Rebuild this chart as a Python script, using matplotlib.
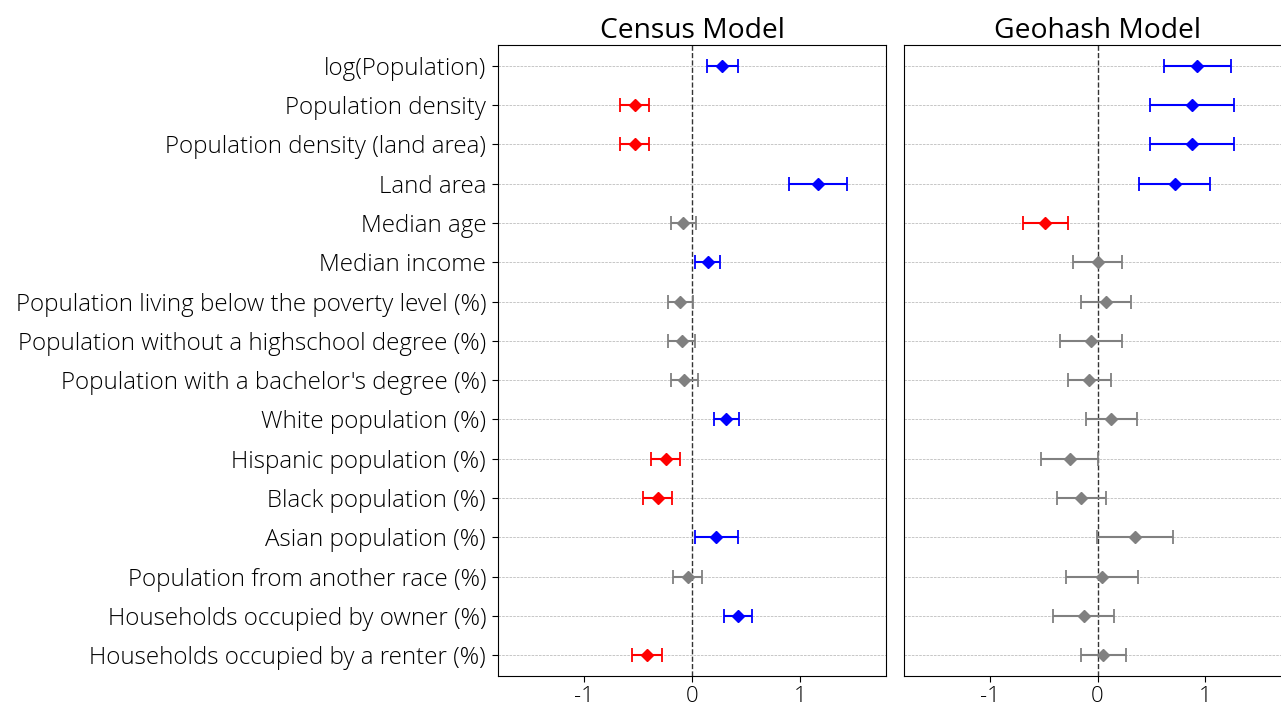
import matplotlib
matplotlib.use("Agg")
import matplotlib.pyplot as plt

plt.rcParams['font.family'] = ['Open Sans', 'DejaVu Sans']
plt.rcParams['font.weight'] = 'light'

features = [
    "log(Population)",
    "Population density",
    "Population density (land area)",
    "Land area",
    "Median age",
    "Median income",
    "Population living below the poverty level (%)",
    "Population without a highschool degree (%)",
    "Population with a bachelor's degree (%)",
    "White population (%)",
    "Hispanic population (%)",
    "Black population (%)",
    "Asian population (%)",
    "Population from another race (%)",
    "Households occupied by owner (%)",
    "Households occupied by a renter (%)",
]

census_coef = [0.28, -0.53, -0.53, 1.17, -0.08, 0.145, -0.11, -0.095, -0.07, 0.32, -0.245, -0.32, 0.225, -0.04, 0.43, -0.42]
census_err = [0.143, 0.135, 0.135, 0.268, 0.113, 0.113, 0.116, 0.124, 0.128, 0.113, 0.135, 0.132, 0.2, 0.135, 0.129, 0.138]

geohash_coef = [0.93, 0.88, 0.88, 0.72, -0.485, 0.0, 0.08, -0.06, -0.075, 0.13, -0.26, -0.15, 0.35, 0.04, -0.13, 0.055]
geohash_err = [0.313, 0.387, 0.387, 0.33, 0.21, 0.225, 0.235, 0.289, 0.203, 0.237, 0.265, 0.227, 0.355, 0.337, 0.28, 0.21]

titles = ["Census Model", "Geohash Model"]


def pick_color(c, e):
    if c - e > 0:
        return "blue"
    if c + e < 0:
        return "red"
    return "gray"


def draw_panel(ax, coefs, errs, title, show_labels):
    ys = list(range(len(features)))
    for y, c, e in zip(ys, coefs, errs):
        col = pick_color(c, e)
        ax.errorbar(c, y, xerr=e, fmt='D', color=col, ecolor=col, elinewidth=1.5,
                    capsize=5.2, capthick=1.3, markersize=6.5, zorder=3)
    ax.axvline(0, color='#333333', linestyle='--', linewidth=1, zorder=2)
    ax.set_yticks(ys)
    ax.set_ylim(len(features) - 0.47, -0.53)
    ax.set_xlim(-1.8, 1.8)
    ax.set_xticks([-1, 0, 1])
    ax.set_xticklabels(["-1", "0", "1"])
    ax.grid(axis='y', linestyle='--', linewidth=0.5, color='#b0b0b0')
    ax.set_axisbelow(True)
    ax.tick_params(axis='both', length=4, width=0.8, labelcolor='#000000')
    ax.tick_params(axis='x', labelsize=16)
    ax.tick_params(axis='y', labelsize=17.4, pad=4.5)
    if show_labels:
        ax.set_yticklabels(features)
    else:
        ax.set_yticklabels([])
        ax.tick_params(axis='y', length=0)
    ax.set_title(title, fontsize=20.3, pad=3, color='#000000')


W, H = 1281, 705
fig = plt.figure(figsize=(W / 100, H / 100), dpi=100)
ax1 = fig.add_axes([498 / W, 1 - 676 / H, 388 / W, 631 / H])
ax2 = fig.add_axes([904 / W, 1 - 676 / H, 387 / W, 631 / H])

draw_panel(ax1, census_coef, census_err, titles[0], True)
draw_panel(ax2, geohash_coef, geohash_err, titles[1], False)

fig.savefig("out.png", dpi=100)
